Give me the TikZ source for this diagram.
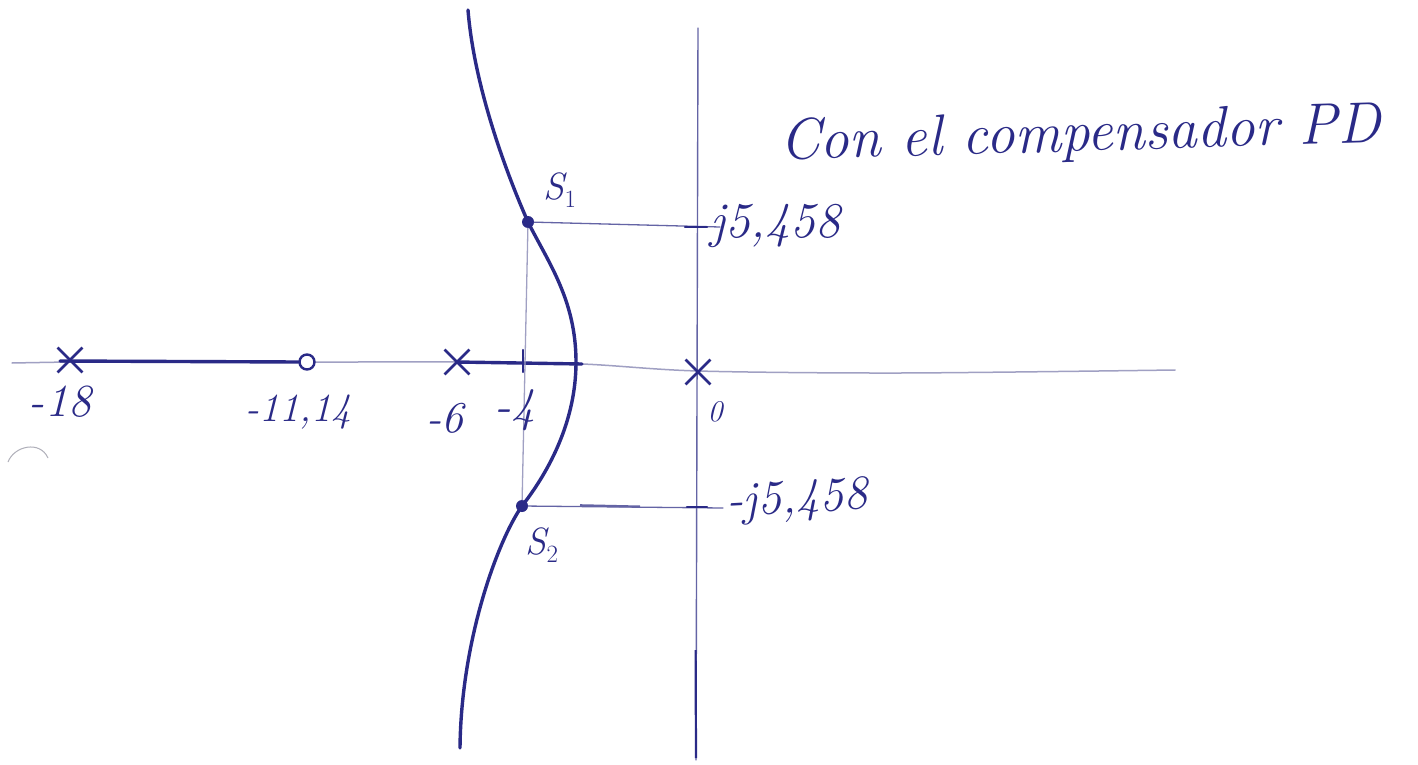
\documentclass[tikz,border=0pt]{standalone}
\usepackage{fontspec}
\usetikzlibrary{shapes.misc}
\definecolor{inkc}{RGB}{42,42,135}
\definecolor{lightc}{RGB}{100,100,165}
\definecolor{axisc}{RGB}{160,160,195}
\definecolor{faintc}{RGB}{175,175,185}
\begin{document}
\begin{tikzpicture}[x=1pt,y=-1pt,
  ink/.style={draw=inkc, line width=3.4pt, line cap=round, line join=round},
  thinln/.style={draw=lightc, line width=1.3pt, line cap=round},
  axisln/.style={draw=axisc, line width=1.5pt, line cap=round},
  imln/.style={draw=lightc, line width=1.4pt, line cap=round},
  tickln/.style={draw=inkc, line width=2.2pt, line cap=round},
  polex/.style={cross out, draw=inkc, line width=2.8pt, minimum size=22pt, inner sep=0pt},
  zeroo/.style={circle, draw=inkc, line width=2.4pt, minimum size=15pt, inner sep=0pt, fill=white},
  pdot/.style={circle, fill=inkc, minimum size=12pt, inner sep=0pt},
  lbl/.style={text=inkc, inner sep=0pt},
]
\useasboundingbox (0,0) rectangle (1418,765);
\fill[white] (0,0) rectangle (1418,765);

% real axis (thin)
\draw[axisln] plot[smooth] coordinates {(12,363) (150,361) (307,362) (457,362) (582,364) (698,371) (900,373) (1175,370)};

% imaginary axis
\coordinate (imT) at (698,28);
\coordinate (imB) at (696,760);
\draw[imln] (imT) -- (imB);
\draw[draw=inkc, line width=2.2pt] (695.6,650) -- (696,758);

% root locus on the real axis
\coordinate (lstart) at (60,361);
\coordinate (brk) at (582,364);
\node[zeroo] (z11) at (307,362) {};
\draw[ink] (lstart) -- (z11.west);
\node[polex] (p18) at (70,360) {};
\node[polex] (p6) at (457,362) {};
\node[polex] (p0) at (698,372) {};
\draw[ink] (p6.center) -- (brk);
\draw[tickln] (523,350) -- (523,372);

% complex branch
\coordinate (top) at (468,10);
\coordinate (cross) at (576,362);
\coordinate (bot) at (460,748);
\draw[ink] (top) .. controls (474,85) and (505,170) .. (528,222)
  .. controls (548,262) and (576,300) .. (cross)
  .. controls (576,420) and (550,470) .. (522,506)
  .. controls (498,540) and (461,640) .. (bot);

% closed-loop poles
\node[pdot] (s1) at (528,222) {};
\node[pdot] (s2) at (522,506) {};
\coordinate (j1) at (720,227);
\coordinate (j2) at (723,508);
\draw[thinln] (s1) -- (j1);
\draw[thinln] (s2) -- (j2);
\draw[draw=lightc, line width=2.2pt] (580,505.3) -- (640,506.6);
\draw[thinln, draw=axisc] (s1) -- (s2);
\draw[tickln] (685,227) -- (707,227);
\draw[tickln] (687,507) -- (707,507);

% labels
\node[lbl, font=\fontsize{46}{48}\selectfont\itshape] (l18) at (60,402) {-18};
\node[lbl, font=\fontsize{40}{42}\selectfont\itshape] (l11) at (298,412) {-11,14};
\node[lbl, font=\fontsize{44}{46}\selectfont\itshape] (l6) at (445,418) {-6};
\node[lbl, font=\fontsize{48}{50}\selectfont\itshape] (l4) at (515,410) {-4};
\node[lbl, font=\fontsize{30}{32}\selectfont\itshape] (l0) at (715,412) {0};
\node[lbl, font=\fontsize{38}{40}\selectfont\itshape] (ls1) at (560,190) {S$_1$};
\node[lbl, font=\fontsize{38}{40}\selectfont\itshape] (ls2) at (542,545) {S$_2$};
\node[lbl, font=\fontsize{50}{52}\selectfont\itshape, anchor=base west] (lj1) at (710,237) {j5,458};
\node[lbl, font=\fontsize{48}{50}\selectfont\itshape, anchor=base west, rotate=3] (lj2) at (727,516) {-j5,458};
\node[lbl, font=\fontsize{58}{60}\selectfont\itshape, anchor=base west, rotate=1.7] (title) at (780,160) {Con el compensador PD};

% faint pencil mark
\draw[draw=faintc, line width=1pt] (8,462) .. controls (14,446) and (40,440) .. (48,458);
\end{tikzpicture}
\end{document}
